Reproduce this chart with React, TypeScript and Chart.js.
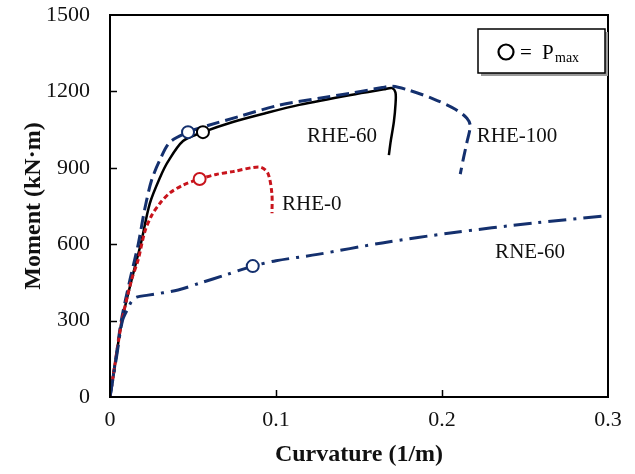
import React, { useEffect, useRef } from "react";
import { Chart, registerables } from "chart.js";

Chart.register(...registerables);

const xTicks = [0, 0.1, 0.2, 0.3];
const yTicks = [0, 300, 600, 900, 1200, 1500];

// RHE-60 (black solid)
const rhe60X = [0, 0.0035, 0.0072, 0.013, 0.0185, 0.024, 0.03, 0.035, 0.044, 0.056, 0.074, 0.094, 0.114, 0.145, 0.165, 0.17, 0.172, 0.172, 0.171, 0.169, 0.168];
const rhe60Y = [0, 150, 300, 460, 600, 760, 860, 925, 1005, 1040, 1080, 1115, 1147, 1186, 1208, 1213, 1195, 1150, 1080, 1000, 950];

// RHE-100 (navy dashed)
const rhe100X = [0, 0.0035, 0.0068, 0.012, 0.017, 0.021, 0.025, 0.03, 0.036, 0.047, 0.06, 0.078, 0.102, 0.127, 0.145, 0.164, 0.17, 0.18, 0.195, 0.208, 0.215, 0.217, 0.215, 0.213, 0.211];
const rhe100Y = [0, 150, 300, 460, 600, 740, 850, 930, 1000, 1040, 1068, 1102, 1146, 1174, 1193, 1215, 1220, 1205, 1170, 1130, 1095, 1065, 1000, 940, 875];

// RHE-0 (red dotted)
const rhe0X = [0, 0.0035, 0.0072, 0.013, 0.017, 0.021, 0.025, 0.03, 0.036, 0.044, 0.054, 0.064, 0.074, 0.09, 0.095, 0.0975, 0.0976];
const rhe0Y = [0, 150, 300, 460, 540, 650, 712, 760, 801, 832, 856, 874, 885, 903, 880, 800, 722];

// RNE-60 (navy dash-dot)
const rne60X = [0, 0.004, 0.0075, 0.011, 0.013, 0.016, 0.023, 0.041, 0.054, 0.07, 0.086, 0.1, 0.125, 0.164, 0.205, 0.255, 0.3];
const rne60Y = [0, 160, 300, 350, 375, 392, 400, 420, 447, 480, 514, 535, 560, 605, 644, 683, 712];

// P_max points
const pmaxRHE60 = { x: 0.056, y: 1040 };
const pmaxRHE100 = { x: 0.047, y: 1040 };
const pmaxRHE0 = { x: 0.054, y: 856 };
const pmaxRNE60 = { x: 0.086, y: 514 };

const seriesLabels = [
  { text: "RHE-60", x: 0.1187, y: 1001 },
  { text: "RHE-100", x: 0.221, y: 1001 },
  { text: "RHE-0", x: 0.1036, y: 734 },
  { text: "RNE-60", x: 0.232, y: 546 },
];

const NAVY = "#14306e";
const RED = "#c8141c";
const BLACK = "#000000";
const SERIF = "'Liberation Serif', 'Times New Roman', serif";

const pts = (xs: number[], ys: number[]) => xs.map((x, i) => ({ x, y: ys[i] }));

const overlay = {
  id: "overlay",
  afterDatasetsDraw(chart: any) {
    const { ctx, chartArea: a, scales } = chart;
    const xs = scales.x;
    const ys = scales.y;
    ctx.save();
    // frame
    ctx.strokeStyle = "#000";
    ctx.lineWidth = 2;
    ctx.strokeRect(a.left, a.top, a.right - a.left, a.bottom - a.top);
    // inward ticks
    ctx.lineWidth = 1.5;
    ctx.beginPath();
    yTicks.slice(1, -1).forEach((v) => {
      const py = Math.round(ys.getPixelForValue(v)) + 0.5;
      ctx.moveTo(a.left, py);
      ctx.lineTo(a.left + 7, py);
    });
    xTicks.slice(1, -1).forEach((v) => {
      const px = Math.round(xs.getPixelForValue(v)) + 0.5;
      ctx.moveTo(px, a.bottom);
      ctx.lineTo(px, a.bottom - 7);
    });
    ctx.stroke();
    // series labels
    ctx.fillStyle = "#111";
    ctx.font = `21px ${SERIF}`;
    ctx.textAlign = "left";
    ctx.textBaseline = "alphabetic";
    seriesLabels.forEach((l) => {
      ctx.fillText(l.text, xs.getPixelForValue(l.x), ys.getPixelForValue(l.y));
    });
    // legend box
    const bx = a.right - 130;
    const by = a.top + 14;
    const bw = 127;
    const bh = 44;
    ctx.fillStyle = "#9a9a9a";
    ctx.fillRect(bx + 3, by + 3, bw, bh);
    ctx.fillStyle = "#fff";
    ctx.fillRect(bx, by, bw, bh);
    ctx.strokeStyle = "#000";
    ctx.lineWidth = 1.5;
    ctx.strokeRect(bx, by, bw, bh);
    ctx.beginPath();
    ctx.lineWidth = 2.2;
    ctx.arc(bx + 28, by + 23, 7.5, 0, Math.PI * 2);
    ctx.stroke();
    ctx.fillStyle = "#000";
    ctx.font = `21px ${SERIF}`;
    ctx.fillText("=", bx + 42, by + 30);
    ctx.fillText("P", bx + 64, by + 30);
    ctx.font = `14px ${SERIF}`;
    ctx.fillText("max", bx + 77, by + 33);
    ctx.restore();
  },
};

export default function App() {
  const ref = useRef<HTMLCanvasElement | null>(null);
  useEffect(() => {
    if (!ref.current) return;
    const lineBase = {
      showLine: true,
      pointRadius: 0,
      pointHoverRadius: 0,
      fill: false,
      tension: 0.3,
      order: 2,
    };
    const marker = (p: { x: number; y: number }, color: string) => ({
      data: [p],
      showLine: false,
      pointRadius: 6,
      pointBorderWidth: 2,
      pointBackgroundColor: "#fff",
      pointBorderColor: color,
      borderColor: color,
      backgroundColor: "#fff",
      order: 0,
    });
    const chart = new Chart(ref.current, {
      type: "scatter",
      data: {
        datasets: [
          { ...lineBase, label: "RNE-60", data: pts(rne60X, rne60Y), borderColor: NAVY, borderWidth: 3, borderDash: [18, 7, 3, 7] },
          { ...lineBase, label: "RHE-0", data: pts(rhe0X, rhe0Y), borderColor: RED, borderWidth: 3, borderDash: [5, 3] },
          { ...lineBase, label: "RHE-100", data: pts(rhe100X, rhe100Y), borderColor: NAVY, borderWidth: 3, borderDash: [13, 6] },
          { ...lineBase, label: "RHE-60", data: pts(rhe60X, rhe60Y), borderColor: BLACK, borderWidth: 2.5 },
          { ...marker(pmaxRHE60, BLACK), label: "Pmax RHE-60" },
          { ...marker(pmaxRHE100, NAVY), label: "Pmax RHE-100" },
          { ...marker(pmaxRHE0, RED), label: "Pmax RHE-0" },
          { ...marker(pmaxRNE60, NAVY), label: "Pmax RNE-60" },
        ] as any,
      },
      options: {
        animation: false,
        responsive: false,
        maintainAspectRatio: false,
        layout: { padding: { left: 0, right: 27, top: 15, bottom: 0 } },
        plugins: { legend: { display: false }, tooltip: { enabled: false } },
        scales: {
          x: {
            type: "linear",
            min: 0,
            max: 0.3,
            afterBuildTicks: (s: any) => {
              s.ticks = xTicks.map((v) => ({ value: v }));
            },
            afterFit: (s: any) => {
              s.height = 77;
              s.paddingLeft = 0;
              s.paddingRight = 0;
            },
            grid: { display: false, drawTicks: false },
            border: { display: false },
            ticks: {
              padding: 10,
              color: "#111",
              font: { family: SERIF, size: 22 },
              maxRotation: 0,
              callback: (v: any) => (Number(v) === 0 ? "0" : Number(v).toFixed(1)),
            },
            title: {
              display: true,
              text: "Curvature (1/m)",
              color: "#111",
              font: { family: SERIF, size: 24, weight: "bold" },
              padding: { top: 0, bottom: 5 },
            },
          },
          y: {
            type: "linear",
            min: 0,
            max: 1500,
            afterBuildTicks: (s: any) => {
              s.ticks = yTicks.map((v) => ({ value: v }));
            },
            afterFit: (s: any) => {
              s.width = 110;
              s.paddingTop = 0;
              s.paddingBottom = 0;
            },
            grid: { display: false, drawTicks: false },
            border: { display: false },
            ticks: {
              padding: 20,
              color: "#111",
              font: { family: SERIF, size: 22 },
              callback: (v: any) => String(v),
            },
            title: {
              display: true,
              text: "Moment (kN·m)",
              color: "#111",
              font: { family: SERIF, size: 24, weight: "bold" },
              padding: { top: 19, bottom: 0 },
            },
          },
        },
      },
      plugins: [overlay],
    });
    return () => chart.destroy();
  }, []);
  return (
    <div style={{ position: "absolute", left: 0, top: 0, width: 635, height: 474, background: "#fff" }}>
      <canvas ref={ref} width={635} height={474} style={{ width: 635, height: 474, display: "block" }} />
    </div>
  );
}
